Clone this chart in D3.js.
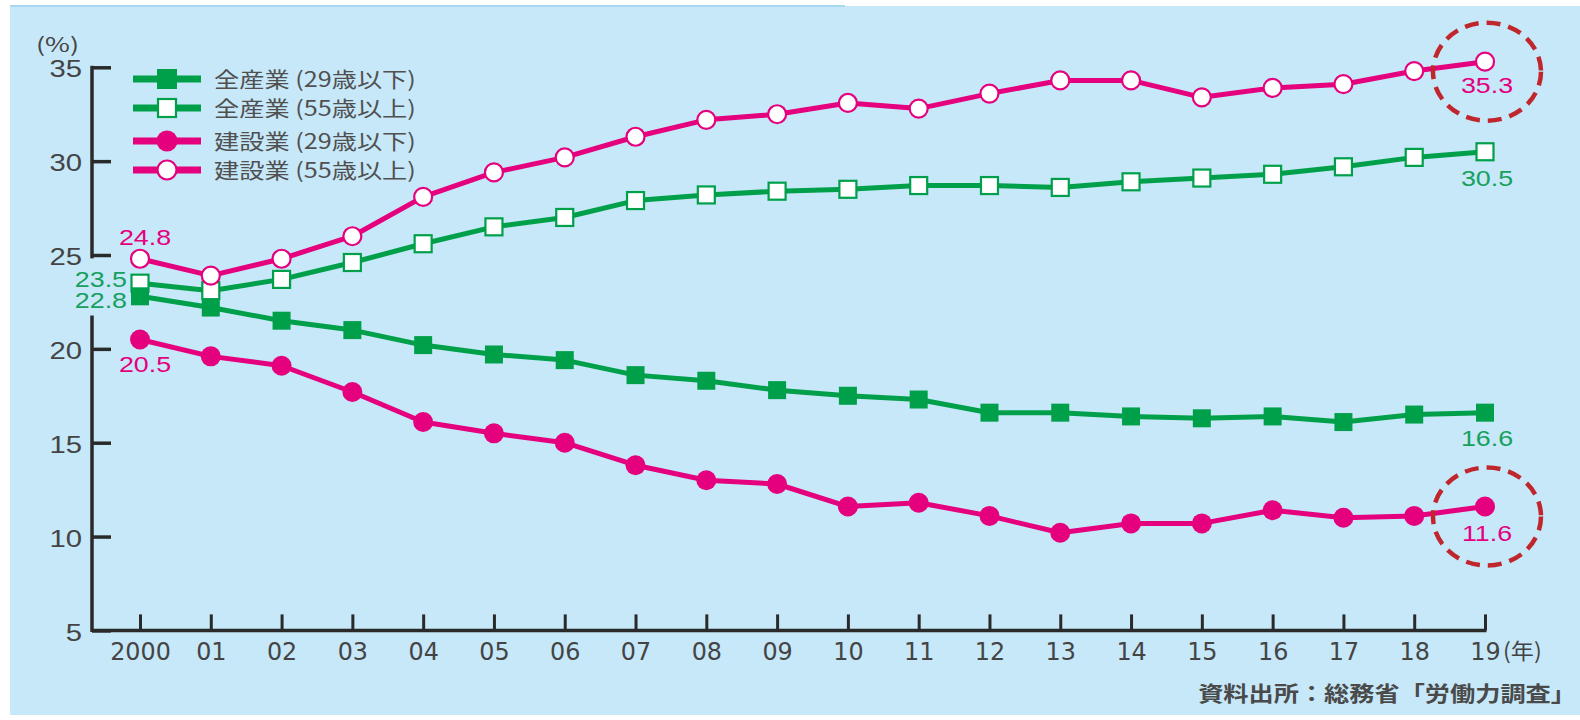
<!DOCTYPE html>
<html>
<head>
<meta charset="utf-8">
<script src="https://cdn.jsdelivr.net/npm/d3@7"></script>
<style>
  body { margin: 0; background: #fff; }
  svg { display: block; }
</style>
</head>
<body>
<svg id="chart" width="1580" height="720"></svg>
<script>
// years on the x axis (2000..2019) and their tick labels
const years = d3.range(2000, 2020);
const yearLabels = ["2000","01","02","03","04","05","06","07","08","09","10","11","12","13","14","15","16","17","18","19"];

// share of workers (%) by age group
const allUnder29 = [22.8,22.2,21.5,21.0,20.2,19.7,19.4,18.6,18.3,17.8,17.5,17.3,16.6,16.6,16.4,16.3,16.4,16.1,16.5,16.6];
const allOver55  = [23.5,23.1,23.7,24.6,25.6,26.5,27.0,27.9,28.2,28.4,28.5,28.7,28.7,28.6,28.9,29.1,29.3,29.7,30.2,30.5];
const conUnder29 = [20.5,19.6,19.1,17.7,16.1,15.5,15.0,13.8,13.0,12.8,11.6,11.8,11.1,10.2,10.7,10.7,11.4,11.0,11.1,11.6];
const conOver55  = [24.8,23.9,24.8,26.0,28.1,29.4,30.2,31.3,32.2,32.5,33.1,32.8,33.6,34.3,34.3,33.4,33.9,34.1,34.8,35.3];

const yTicks = [5,10,15,20,25,30,35];
const legendNames = ["全産業 (29歳以下)","全産業 (55歳以上)","建設業 (29歳以下)","建設業 (55歳以上)"];

const GREEN = "#00a04a", PINK = "#e5007e", AXIS = "#2a2a2a", TEXT = "#444";
const LABEL_GREEN = "#17a05c";
const SANS = "'Liberation Sans', Arial, sans-serif";
const CJK = "'Noto Sans CJK JP', sans-serif";
const SX = 1.22; // the original artwork is a bit wider than tall

const svg = d3.select("#chart");

// panel background
svg.append("rect").attr("x", 10).attr("y", 6).attr("width", 1570).attr("height", 709).attr("fill", "#c6e8f9");
svg.append("line").attr("x1", 10).attr("x2", 845).attr("y1", 6).attr("y2", 6)
  .attr("stroke", "#a9d8f0").attr("stroke-width", 2);

const x = d3.scaleLinear().domain([2000, 2019]).range([140, 1485]);
const y = d3.scaleLinear().domain([5, 35]).range([630.4, 67.3]);

// helper for free text, stretched horizontally like the source
function txt(str, px, py, opts) {
  const o = Object.assign({ size: 22, family: SANS, color: TEXT, anchor: "start", sx: SX, weight: "normal" }, opts);
  return svg.append("text").attr("transform", `translate(${px},${py}) scale(${o.sx},1)`)
    .attr("text-anchor", o.anchor).attr("dy", "0.36em").attr("fill", o.color)
    .attr("font-size", o.size).attr("font-family", o.family).attr("font-weight", o.weight).text(str);
}

// y axis: ticks point inward, line broken where the start labels sit
const yAxis = svg.append("g").attr("transform", "translate(92,0)")
  .call(d3.axisLeft(y).tickValues(yTicks).tickSizeInner(-19).tickSizeOuter(0).tickPadding(10));
yAxis.select(".domain").remove();
yAxis.selectAll(".tick line").attr("stroke", AXIS).attr("stroke-width", 3.5);
yAxis.selectAll(".tick text").attr("fill", TEXT).attr("font-size", 24).attr("font-family", SANS)
  .attr("dy", "0.4em").attr("x", 0).attr("transform", `translate(-10,0) scale(${SX},1)`);
[[35, 24.9], [21.7, 5]].forEach(([a, b]) => {
  yAxis.append("line").attr("x1", 0).attr("x2", 0).attr("y1", y(a) - 1.5).attr("y2", y(b) + 1.5)
    .attr("stroke", AXIS).attr("stroke-width", 3.5);
});

// x axis
const xAxis = svg.append("g").attr("transform", `translate(0,${y(5)})`)
  .call(d3.axisBottom(x).tickValues(years).tickFormat((d, i) => yearLabels[i])
    .tickSizeInner(-16).tickSizeOuter(0).tickPadding(12));
xAxis.select(".domain").remove();
xAxis.append("line").attr("x1", 92).attr("x2", x(2019) + 1.5).attr("stroke", AXIS).attr("stroke-width", 3.5);
xAxis.selectAll(".tick line").attr("stroke", AXIS).attr("stroke-width", 3);
xAxis.selectAll(".tick text").attr("fill", TEXT).attr("font-size", 25)
  .attr("font-family", "'Liberation Sans Narrow', 'DejaVu Sans Condensed', sans-serif")
  .attr("transform", "scale(1.06,1)");
txt("(年)", x(2019) + 18, y(5) + 21, { family: CJK, size: 22, sx: 1.05 });

txt("(%)", 36, 45, { family: CJK, size: 20, sx: 1.35 });

// series
const series = [
  { vals: allOver55, color: GREEN, shape: "square", open: true },
  { vals: allUnder29, color: GREEN, shape: "square", open: false },
  { vals: conOver55, color: PINK, shape: "circle", open: true },
  { vals: conUnder29, color: PINK, shape: "circle", open: false }
];

const line = d3.line().x((d, i) => x(years[i])).y(d => y(d));

function marker(g, s, cx, cy, big) {
  if (s.shape === "square") {
    const h = s.open ? (big ? 9 : 8.5) : (big ? 10 : 9);
    g.append("rect").attr("x", cx - h).attr("y", cy - h).attr("width", 2 * h).attr("height", 2 * h)
      .attr("fill", s.open ? "#fff" : s.color).attr("stroke", s.color).attr("stroke-width", s.open ? 2.2 : 0);
  } else {
    g.append("circle").attr("cx", cx).attr("cy", cy).attr("r", s.open ? (big ? 9.5 : 9) : (big ? 10.5 : 10))
      .attr("fill", s.open ? "#fff" : s.color).attr("stroke", s.color).attr("stroke-width", s.open ? 2.2 : 0);
  }
}

series.forEach(s => {
  svg.append("path").datum(s.vals).attr("d", line).attr("fill", "none")
    .attr("stroke", s.color).attr("stroke-width", 5).attr("stroke-linejoin", "round");
  const g = svg.append("g");
  s.vals.forEach((v, i) => marker(g, s, x(years[i]), y(v), false));
});

// legend
const legendRows = [series[1], series[0], series[3], series[2]];
const legendY = [79, 108, 141, 170];
legendRows.forEach((s, i) => {
  const g = svg.append("g");
  g.append("line").attr("x1", 133).attr("x2", 201).attr("y1", legendY[i]).attr("y2", legendY[i])
    .attr("stroke", s.color).attr("stroke-width", 7);
  marker(g, s, 167, legendY[i], true);
  txt(legendNames[i], 214, legendY[i], { family: CJK, size: 21, color: "#505050", sx: 1.2 });
});

// value labels at the ends
const last = years.length - 1;
const val = (v, px, py, color, anchor) => txt(v.toFixed(1), px, py, { size: 22, color, anchor });
val(conOver55[0], x(2000) + 5, y(conOver55[0]) - 22, PINK, "middle");
val(allOver55[0], x(2000) - 13, y(allOver55[0]) - 4, LABEL_GREEN, "end");
val(allUnder29[0], x(2000) - 13, y(allUnder29[0]) + 4, LABEL_GREEN, "end");
val(conUnder29[0], x(2000) + 5, y(conUnder29[0]) + 25, PINK, "middle");
val(conOver55[last], x(2019) + 2, y(conOver55[last]) + 23, PINK, "middle");
val(allOver55[last], x(2019) + 2, y(allOver55[last]) + 26, LABEL_GREEN, "middle");
val(allUnder29[last], x(2019) + 2, y(allUnder29[last]) + 25, LABEL_GREEN, "middle");
val(conUnder29[last], x(2019) + 2, y(conUnder29[last]) + 27, PINK, "middle");

// dashed highlight rings around the latest construction values
[conOver55[last], conUnder29[last]].forEach(v => {
  svg.append("ellipse").attr("cx", x(2019) + 2).attr("cy", y(v) + 10).attr("rx", 54).attr("ry", 49)
    .attr("fill", "none").attr("stroke", "#c0272d").attr("stroke-width", 4.5)
    .attr("stroke-dasharray", "14 8");
});

// source note
txt("資料出所：総務省「労働力調査」", 1576, 693, { family: CJK, size: 21, color: "#4a4a4a", anchor: "end", sx: 1.2, weight: "bold" });
</script>
</body>
</html>
